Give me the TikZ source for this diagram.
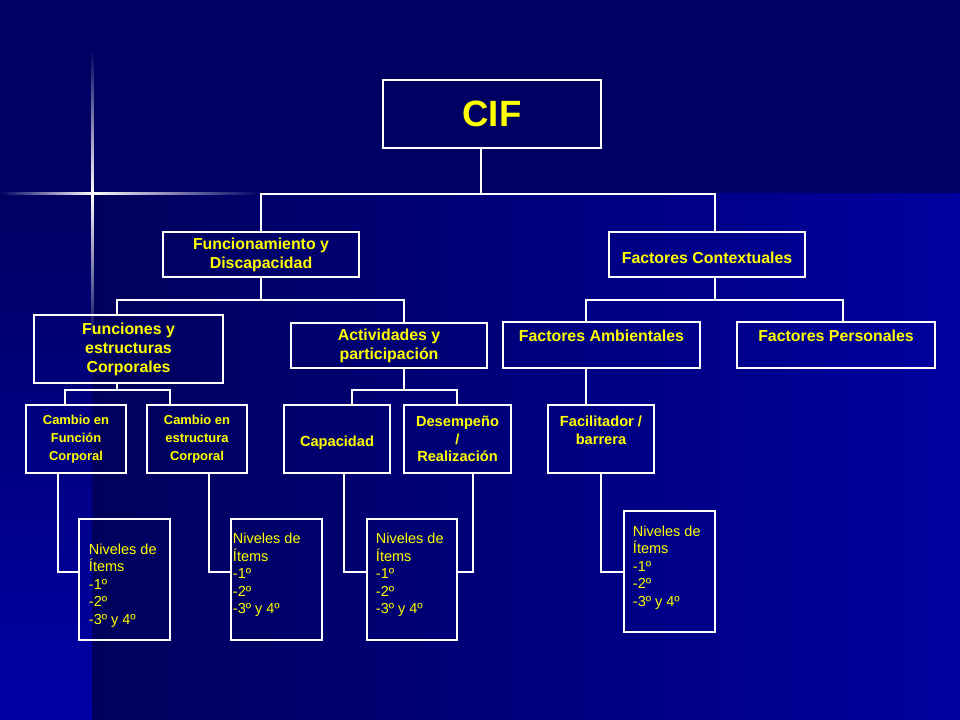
\documentclass[tikz,border=0pt]{standalone}
\usepackage{fontspec}
\setmainfont{Liberation Sans}
\definecolor{bgtop}{HTML}{000062}
\definecolor{bgdark}{HTML}{00005C}
\definecolor{bglight}{HTML}{00009E}
\definecolor{bgstrip}{HTML}{0000A6}
\definecolor{spark}{HTML}{3F73FF}
\definecolor{txt}{HTML}{FFFF00}
\begin{document}
\begin{tikzpicture}[x=0.025cm,y=-0.025cm,
    box/.style={draw=white,line width=0.9pt,text=txt,align=center,inner sep=0pt},
    big/.style={box,font=\fontsize{11.3}{13.5}\selectfont\bfseries},
    mid/.style={box,font=\fontsize{10.4}{12.4}\selectfont\bfseries},
    sml/.style={box,font=\fontsize{9.2}{12.8}\selectfont\bfseries},
    niv/.style={box,align=flush left,font=\fontsize{10.3}{12.4}\selectfont,minimum height=3.025cm},
    link/.style={draw=white,line width=0.9pt}]
    \useasboundingbox (0,0) rectangle (960,720);
    \fill [bgtop] (0,0) rectangle (960,194);
    \shade [left color=bgdark,right color=bglight] (92,194) rectangle (960,720);
    \shade [top color=bgtop,bottom color=bgstrip] (0,194) rectangle (92,720);
    \shade [left color=bgtop,middle color=spark,right color=white] (0,193) rectangle (92,195);
    \shade [left color=white,middle color=spark,right color=bgtop] (92,193) rectangle (260,195);
    \shade [top color=bgtop,middle color=spark,bottom color=white] (91,50) rectangle (93.5,194);
    \shade [top color=white,middle color=spark,bottom color=bgdark] (91,194) rectangle (93.5,340);

    \node [box,minimum width=5.45cm,minimum height=1.7cm,font=\fontsize{26}{30}\selectfont\bfseries] (cif) at (492,114) {CIF};
    \node [big,minimum width=4.9cm,minimum height=1.125cm] (fun) at (261,254.5) {Funcionamiento y\\Discapacidad};
    \node [big,minimum width=4.9cm,minimum height=1.125cm] (ctx) at (707,254.5) {\mbox{}\\Factores Contextuales};
    \node [big,minimum width=4.725cm,minimum height=1.7cm] (fyc) at (128.5,349) {Funciones y\\estructuras\\Corporales};
    \node [big,minimum width=4.9cm,minimum height=1.125cm] (act) at (389,345.5) {Actividades y\\participación};
    \node [big,minimum width=4.925cm,minimum height=1.15cm] (amb) at (601.5,345) {Factores Ambientales\\\mbox{}};
    \node [big,minimum width=4.95cm,minimum height=1.15cm] (per) at (836,345) {Factores Personales\\\mbox{}};
    \node [sml,minimum width=2.5cm,minimum height=1.7cm] (cfu) at (76,439) {Cambio en\\Función\\Corporal};
    \node [sml,minimum width=2.5cm,minimum height=1.7cm] (ces) at (197,439) {Cambio en\\estructura\\Corporal};
    \node [mid,minimum width=2.65cm,minimum height=1.7cm] (cap) at (337,439) {\mbox{}\\Capacidad};
    \node [mid,minimum width=2.675cm,minimum height=1.7cm] (des) at (457.5,439) {Desempeño\\/\\Realización};
    \node [mid,minimum width=2.65cm,minimum height=1.7cm] (fac) at (601,439) {Facilitador /\\barrera\\\mbox{}};
    \foreach \nm/\x/\y/\xs/\tw/\tp/\bt in {n1/124.5/579.5/0.25/1.775/16/0,n2/276.5/579.5/0.05/2.175/0/6.4,n3/412/579.5/0.225/1.8/0/6.4,n4/669.5/571.5/0.225/1.825/0/5.7}{
      \node [niv,inner xsep=\xs cm,text width=\tw cm] (\nm) at (\x,\y) {\rule{0pt}{\tp pt}Niveles de\\Ítems\\-1º\\-2º\\-3º y 4º\par\vspace*{\bt pt}};
    }

    \coordinate (j1) at (481,194);
    \coordinate (j1a) at (261,194);
    \coordinate (j1b) at (715,194);
    \coordinate (j2) at (261,300);
    \coordinate (j2a) at (117,300);
    \coordinate (j2b) at (404,300);
    \coordinate (j3) at (715,300);
    \coordinate (j3a) at (586,300);
    \coordinate (j3b) at (843,300);
    \coordinate (j4) at (117,390);
    \coordinate (j4a) at (65,390);
    \coordinate (j4b) at (170,390);
    \coordinate (j5) at (404,390);
    \coordinate (j5a) at (352,390);
    \coordinate (j5b) at (457,390);
    \coordinate (j6) at (586,405);
    \coordinate (k1) at (58,572);
    \coordinate (k2) at (209,572);
    \coordinate (k3) at (344,572);
    \coordinate (k4) at (473,572);
    \coordinate (k5) at (601,572);

    \draw [link] (cif.south -| j1) -- (j1);
    \draw [link] (j1a |- fun.north) -- (j1a) -- (j1b) -- (j1b |- ctx.north);
    \draw [link] (fun.south -| j2) -- (j2);
    \draw [link] (j2a |- fyc.north) -- (j2a) -- (j2b) -- (j2b |- act.north);
    \draw [link] (ctx.south -| j3) -- (j3);
    \draw [link] (j3a |- amb.north) -- (j3a) -- (j3b) -- (j3b |- per.north);
    \draw [link] (fyc.south -| j4) -- (j4);
    \draw [link] (j4a |- cfu.north) -- (j4a) -- (j4b) -- (j4b |- ces.north);
    \draw [link] (act.south -| j5) -- (j5);
    \draw [link] (j5a |- cap.north) -- (j5a) -- (j5b) -- (j5b |- des.north);
    \draw [link] (amb.south -| j6) -- (j6 |- fac.north);
    \foreach \a/\b/\k in {cfu/n1.west/k1,ces/n2.west/k2,cap/n3.west/k3,des/n3.east/k4,fac/n4.west/k5}{
      \draw [link] (\a.south -| \k) -- (\k) -- (\k -| \b);
    }
  \end{tikzpicture}
\end{document}
